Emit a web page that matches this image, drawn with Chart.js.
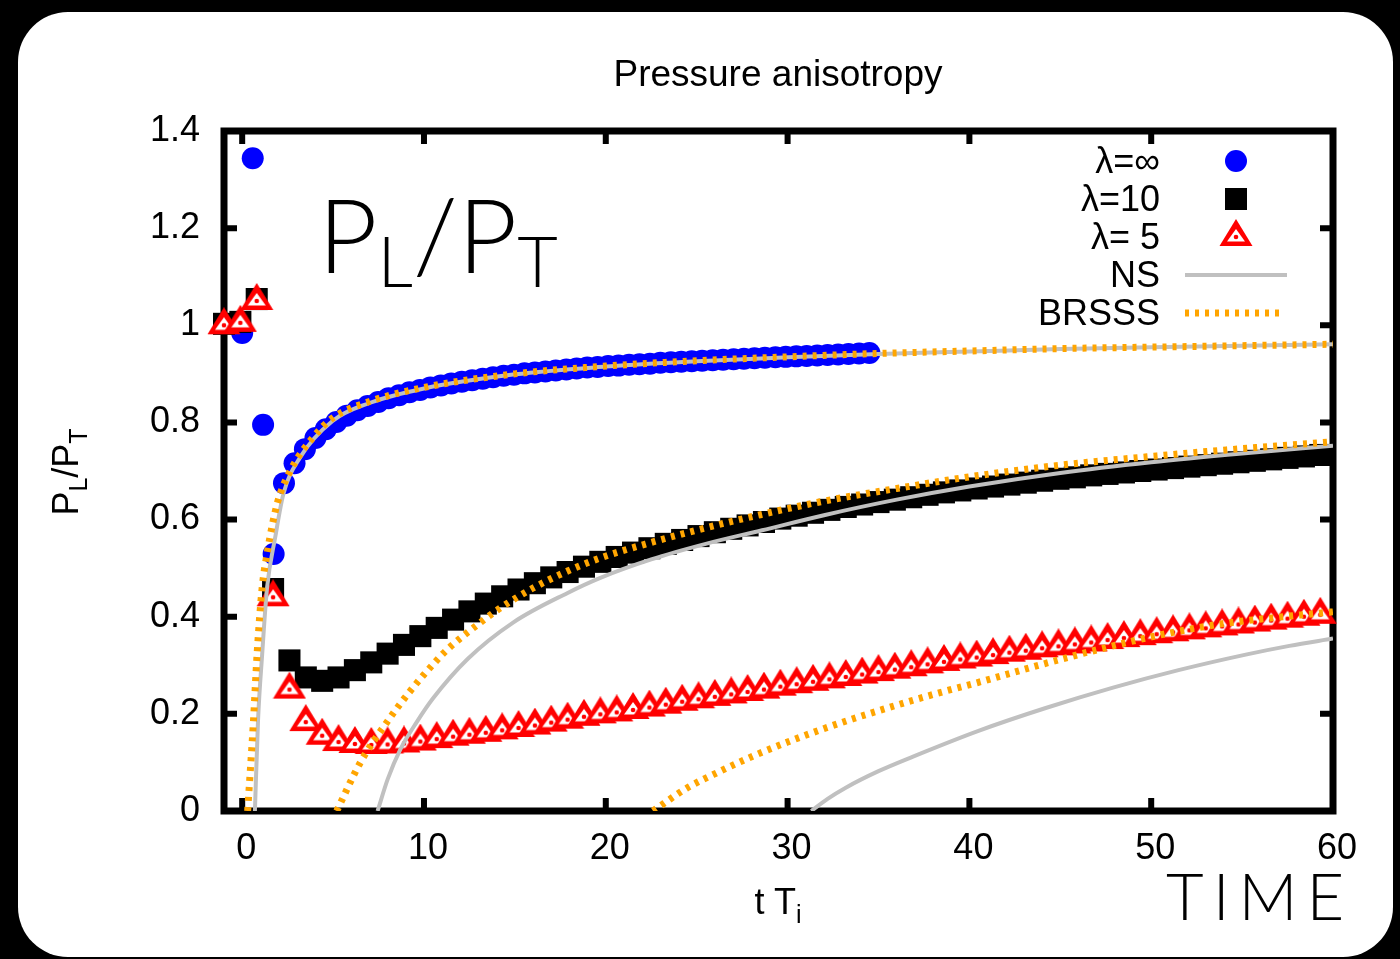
<!DOCTYPE html>
<html>
<head>
<meta charset="utf-8">
<title>Pressure anisotropy</title>
<script src="https://cdn.jsdelivr.net/npm/chart.js@4.4.1/dist/chart.umd.min.js"></script>
<style>
  html, body { margin: 0; padding: 0; background: #000; }
  #page { position: relative; width: 1400px; height: 959px; overflow: hidden; background: #000; }
  #card { position: absolute; left: 18px; top: 12px; width: 1375px; height: 945px; background: #fff; border-radius: 50px; }
  #chart { position: absolute; left: 0; top: 0; }
  .lbl { position: absolute; font-family: "Liberation Sans", Arial, sans-serif; font-size: 36px; line-height: 36px; color: #000; white-space: nowrap; }
  .lbl sub { font-size: 25px; vertical-align: -9px; line-height: 0; }
  .legend { right: 240px; text-align: right; }
  .thin { font-family: "Lato", "Open Sans", sans-serif; font-weight: 300; }
</style>
</head>
<body>
<div id="page">
  <div id="card"></div>
  <canvas id="chart" width="1400" height="959"></canvas>

  <div class="lbl" style="left:578px;width:400px;top:56px;text-align:center;font-size:37px;">Pressure anisotropy</div>

  <div class="lbl legend" style="top:143px;">λ=∞</div>
  <div class="lbl legend" style="top:181px;">λ=10</div>
  <div class="lbl legend" style="top:219px;">λ= 5</div>
  <div class="lbl legend" style="top:257px;">NS</div>
  <div class="lbl legend" style="top:295px;">BRSSS</div>

  <div class="lbl" style="left:-34px;top:454px;width:200px;text-align:center;transform:rotate(-90deg);">P<sub>L</sub>/P<sub>T</sub></div>
  <div class="lbl" style="left:678px;top:884px;width:200px;text-align:center;">t T<sub>i</sub></div>

  <div class="lbl thin" style="left:318px;top:182px;font-size:103px;line-height:103px;">P<sub style="font-size:70px;vertical-align:-14px;">L</sub>/P<sub style="font-size:70px;vertical-align:-14px;">T</sub></div>
  <div class="lbl thin" style="left:1166px;top:863px;font-size:65px;line-height:65px;letter-spacing:9px;">TIME</div>
</div>

<script>
// axis ticks
const xTicks = [0, 10, 20, 30, 40, 50, 60];
const yTicks = [0, 0.2, 0.4, 0.6, 0.8, 1, 1.2, 1.4];

// lambda = infinity (blue circles)
const infT = [0, 0.58, 1.15, 1.73, 2.3, 2.88, 3.45, 4.03, 4.6, 5.18,
  5.75, 6.33, 6.9, 7.48, 8.05, 8.63, 9.2, 9.78, 10.35, 10.93,
  11.5, 12.08, 12.65, 13.23, 13.8, 14.38, 14.95, 15.53, 16.1, 16.68,
  17.25, 17.83, 18.4, 18.98, 19.55, 20.13, 20.7, 21.28, 21.85, 22.43,
  23.0, 23.58, 24.15, 24.73, 25.3, 25.88, 26.45, 27.03, 27.6, 28.18,
  28.75, 29.33, 29.9, 30.48, 31.05, 31.63, 32.2, 32.78, 33.35, 33.93,
  34.5];
const lambdaInf = [0.984, 1.344, 0.795, 0.529, 0.675, 0.716, 0.745, 0.768, 0.786, 0.801,
  0.814, 0.825, 0.834, 0.842, 0.85, 0.856, 0.862, 0.867, 0.872, 0.876,
  0.88, 0.884, 0.887, 0.89, 0.893, 0.896, 0.898, 0.901, 0.903, 0.905,
  0.907, 0.909, 0.911, 0.913, 0.914, 0.916, 0.917, 0.919, 0.92, 0.921,
  0.923, 0.924, 0.925, 0.926, 0.927, 0.928, 0.929, 0.93, 0.931, 0.932,
  0.933, 0.934, 0.935, 0.936, 0.937, 0.938, 0.939, 0.94, 0.941, 0.942,
  0.943];

// lambda = 10 and lambda = 5 share the same times
const latT = [-1.0, -0.1, 0.8, 1.7, 2.6, 3.5, 4.4, 5.3, 6.2, 7.1,
  8.0, 8.9, 9.8, 10.7, 11.6, 12.5, 13.4, 14.3, 15.2, 16.1,
  17.0, 17.9, 18.8, 19.7, 20.6, 21.5, 22.4, 23.3, 24.2, 25.1,
  26.0, 26.9, 27.8, 28.7, 29.6, 30.5, 31.4, 32.3, 33.2, 34.1,
  35.0, 35.9, 36.8, 37.7, 38.6, 39.5, 40.4, 41.3, 42.2, 43.1,
  44.0, 44.9, 45.8, 46.7, 47.6, 48.5, 49.4, 50.3, 51.2, 52.1,
  53.0, 53.9, 54.8, 55.7, 56.6, 57.5, 58.4, 59.3];
const lambda10 = [1.003, 1.007, 1.054, 0.457, 0.31, 0.275, 0.268, 0.275, 0.29, 0.306,
  0.324, 0.342, 0.36, 0.377, 0.394, 0.411, 0.427, 0.442, 0.456, 0.469,
  0.481, 0.492, 0.503, 0.513, 0.523, 0.532, 0.541, 0.55, 0.558, 0.566,
  0.574, 0.581, 0.588, 0.595, 0.602, 0.608, 0.614, 0.62, 0.626, 0.631,
  0.636, 0.641, 0.646, 0.651, 0.656, 0.66, 0.664, 0.668, 0.672, 0.676,
  0.68, 0.684, 0.687, 0.691, 0.694, 0.697, 0.7, 0.703, 0.706, 0.709,
  0.712, 0.715, 0.718, 0.721, 0.724, 0.727, 0.73, 0.733];
const lambda5 = [1.0, 1.005, 1.05, 0.44, 0.25, 0.183, 0.155, 0.142, 0.138, 0.136,
  0.137, 0.139, 0.143, 0.148, 0.153, 0.157, 0.161, 0.166, 0.171, 0.176,
  0.182, 0.188, 0.194, 0.199, 0.203, 0.208, 0.213, 0.219, 0.225, 0.23,
  0.235, 0.24, 0.245, 0.25, 0.256, 0.261, 0.266, 0.271, 0.276, 0.281,
  0.286, 0.291, 0.296, 0.302, 0.307, 0.312, 0.316, 0.321, 0.326, 0.33,
  0.335, 0.339, 0.343, 0.347, 0.352, 0.356, 0.36, 0.364, 0.368, 0.372,
  0.376, 0.38, 0.384, 0.388, 0.392, 0.396, 0.4, 0.404];

// Navier-Stokes curves (grey)
const nsInfT = [0.7, 0.87, 1.1, 1.37, 1.81, 2.27, 3.17, 4.97, 7, 10, 15, 20, 25, 30, 35, 40, 45, 50, 55, 60];
const nsInf = [0, 0.185, 0.323, 0.46, 0.562, 0.653, 0.727, 0.803, 0.84, 0.87, 0.899, 0.915, 0.926, 0.934, 0.941, 0.946, 0.951, 0.955, 0.958, 0.961];
const ns10T = [7.45, 8.0, 8.7, 9.6, 10.5, 12.4, 14.9, 17.9, 19.7, 22.5, 25.5, 28.6, 32, 36, 40, 45, 50, 55, 60];
const ns10 = [0, 0.065, 0.127, 0.183, 0.232, 0.313, 0.388, 0.449, 0.48, 0.518, 0.55, 0.578, 0.609, 0.641, 0.668, 0.696, 0.718, 0.736, 0.752];
const ns5T = [31.3, 32.2, 33.2, 35, 36.9, 40.5, 44.2, 47.9, 51.5, 55.2, 57.6, 60];
const ns5 = [0, 0.025, 0.048, 0.082, 0.112, 0.165, 0.212, 0.254, 0.29, 0.322, 0.34, 0.355];

// BRSSS curves (orange dotted)
const brInfT = [0.3, 0.62, 0.82, 1.1, 1.37, 1.92, 2.64, 3.87, 5, 7, 10, 15, 20, 25, 30, 35, 40, 45, 50, 55, 60];
const brInf = [0, 0.185, 0.323, 0.46, 0.53, 0.632, 0.7, 0.768, 0.81, 0.843, 0.872, 0.9, 0.916, 0.927, 0.935, 0.942, 0.947, 0.952, 0.955, 0.958, 0.961];
const br10T = [5.2, 6.5, 8.0, 9.2, 10.5, 11.3, 13.1, 14.2, 16.0, 17.9, 19.7, 22.5, 25.5, 28.5, 32, 36, 40, 45, 50, 55, 60];
const br10 = [0, 0.1, 0.185, 0.245, 0.302, 0.333, 0.388, 0.418, 0.459, 0.494, 0.521, 0.553, 0.583, 0.61, 0.638, 0.664, 0.688, 0.712, 0.73, 0.746, 0.76];
const br5T = [22.6, 24.45, 26.3, 28.1, 30, 31.8, 33.6, 35.4, 36.9, 38.7, 40.5, 42.4, 44.2, 46, 47.9, 49.7, 51.5, 54, 57, 60];
const br5 = [0, 0.047, 0.082, 0.113, 0.142, 0.167, 0.19, 0.211, 0.228, 0.247, 0.265, 0.285, 0.304, 0.322, 0.34, 0.356, 0.37, 0.386, 0.399, 0.41];

const BLUE = '#0000ff', RED = '#ff0000', GREY = '#c0c0c0', ORANGE = '#ffa500';

function pts(xs, ys) {
  return xs.map((x, i) => ({ x: x, y: ys[i] }));
}

// open red triangle with a dot in the middle (gnuplot point type)
function makeTriangle() {
  const c = document.createElement('canvas');
  c.width = 34; c.height = 36;
  const g = c.getContext('2d');
  g.fillStyle = RED;
  g.beginPath(); g.moveTo(17, 0); g.lineTo(33.5, 27); g.lineTo(0.5, 27); g.closePath(); g.fill();
  g.fillStyle = '#fff';
  g.beginPath(); g.moveTo(17, 10); g.lineTo(26, 22.5); g.lineTo(8, 22.5); g.closePath(); g.fill();
  g.fillStyle = RED;
  g.beginPath(); g.arc(17, 18, 2.3, 0, Math.PI * 2); g.fill();
  return c;
}
const triangle = makeTriangle();

function curve(label, xs, ys, dashed) {
  return {
    label: label,
    data: pts(xs, ys),
    showLine: true,
    pointRadius: 0,
    borderColor: dashed ? ORANGE : GREY,
    borderWidth: dashed ? 7 : 4,
    borderDash: dashed ? [4, 6] : [],
    borderCapStyle: 'butt',
    cubicInterpolationMode: 'monotone',
    fill: false,
    clip: 0,
    order: dashed ? 1 : 2
  };
}

// frame with inward ticks on all four sides, like gnuplot
const framePlugin = {
  id: 'frame',
  beforeDatasetsDraw(chart) {
    const { ctx, chartArea: a, scales: { x, y } } = chart;
    ctx.save();
    ctx.strokeStyle = '#000';
    ctx.lineWidth = 7;
    ctx.strokeRect(a.left, a.top, a.right - a.left, a.bottom - a.top);
    ctx.lineWidth = 6;
    ctx.beginPath();
    x.ticks.forEach(t => {
      const px = x.getPixelForValue(t.value);
      ctx.moveTo(px, a.bottom); ctx.lineTo(px, a.bottom - 13);
      ctx.moveTo(px, a.top); ctx.lineTo(px, a.top + 13);
    });
    y.ticks.forEach(t => {
      const py = y.getPixelForValue(t.value);
      ctx.moveTo(a.left, py); ctx.lineTo(a.left + 13, py);
      ctx.moveTo(a.right, py); ctx.lineTo(a.right - 13, py);
    });
    ctx.stroke();
    ctx.restore();
  }
};

// key symbols drawn next to the html legend texts
const keyPlugin = {
  id: 'key',
  afterDatasetsDraw(chart) {
    const { ctx, chartArea: a } = chart;
    const sx = a.right - 97, rowY = a.top + 30, step = 38;
    ctx.save();
    ctx.fillStyle = BLUE;
    ctx.beginPath(); ctx.arc(sx, rowY, 11, 0, Math.PI * 2); ctx.fill();
    ctx.fillStyle = '#000';
    ctx.fillRect(sx - 11, rowY + step - 11, 22, 22);
    ctx.drawImage(triangle, sx - 17, rowY + 2 * step - 18);
    ctx.lineCap = 'butt';
    ctx.strokeStyle = GREY; ctx.lineWidth = 4;
    ctx.beginPath(); ctx.moveTo(sx - 51, rowY + 3 * step); ctx.lineTo(sx + 51, rowY + 3 * step); ctx.stroke();
    ctx.strokeStyle = ORANGE; ctx.lineWidth = 7; ctx.setLineDash([4, 6]);
    ctx.beginPath(); ctx.moveTo(sx - 51, rowY + 4 * step); ctx.lineTo(sx + 49, rowY + 4 * step); ctx.stroke();
    ctx.restore();
  }
};

const tickFont = { family: '"Liberation Sans", Arial, sans-serif', size: 36 };

new Chart(document.getElementById('chart').getContext('2d'), {
  type: 'scatter',
  data: {
    datasets: [
      { label: 'λ=∞', data: pts(infT, lambdaInf), pointStyle: 'circle', pointRadius: 11,
        backgroundColor: BLUE, borderWidth: 0, clip: false, order: 5 },
      { label: 'λ=10', data: pts(latT, lambda10), pointStyle: 'rect', pointRadius: 15.6,
        backgroundColor: '#000', borderWidth: 0, clip: false, order: 4 },
      { label: 'λ= 5', data: pts(latT, lambda5), pointStyle: triangle, pointRadius: 14,
        backgroundColor: RED, borderWidth: 0, clip: false, order: 3 },
      curve('NS', nsInfT, nsInf, false),
      curve('NS', ns10T, ns10, false),
      curve('NS', ns5T, ns5, false),
      curve('BRSSS', brInfT, brInf, true),
      curve('BRSSS', br10T, br10, true),
      curve('BRSSS', br5T, br5, true)
    ]
  },
  options: {
    responsive: false,
    animation: false,
    devicePixelRatio: 1,
    events: [],
    layout: { padding: { top: 131, right: 67, left: 0, bottom: 0 } },
    plugins: { legend: { display: false }, tooltip: { enabled: false } },
    scales: {
      x: {
        type: 'linear', min: -1, max: 60,
        afterFit: s => { s.height = 148; },
        afterBuildTicks: s => { s.ticks = xTicks.map(v => ({ value: v })); },
        grid: { display: false, drawTicks: false },
        border: { display: false },
        ticks: { font: tickFont, color: '#000', padding: 16, labelOffset: 4, maxRotation: 0 }
      },
      y: {
        type: 'linear', min: 0, max: 1.4,
        afterFit: s => { s.width = 224; },
        afterBuildTicks: s => { s.ticks = yTicks.map(v => ({ value: v })); },
        grid: { display: false, drawTicks: false },
        border: { display: false },
        ticks: { font: tickFont, color: '#000', padding: 24, callback: v => String(+v.toFixed(1)) }
      }
    }
  },
  plugins: [framePlugin, keyPlugin]
});
</script>
</body>
</html>
